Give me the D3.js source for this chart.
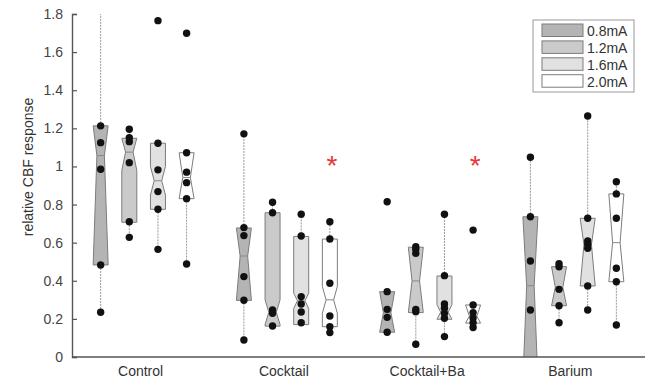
<!DOCTYPE html>
<html>
<head>
<meta charset="utf-8">
<script src="https://cdn.jsdelivr.net/npm/d3@7"></script>
<style>
  body { margin: 0; background: #fff; }
  text { font-family: "Liberation Sans", Arial, sans-serif; }
</style>
</head>
<body>
<svg id="chart" width="647" height="380"></svg>
<script>
const groups = ["Control", "Cocktail", "Cocktail+Ba", "Barium"];
const currents = ["0.8mA", "1.2mA", "1.6mA", "2.0mA"];
const fills = ["#b4b4b4", "#cacaca", "#e1e1e1", "#ffffff"];
const yTicks = [0, 0.2, 0.4, 0.6, 0.8, 1, 1.2, 1.4, 1.6, 1.8];

// box stats, one array per group, one entry per current
const q3 = {
  "Control": [1.213, 1.148, 1.122, 1.072],
  "Cocktail": [0.677, 0.757, 0.633, 0.619],
  "Cocktail+Ba": [0.343, 0.576, 0.425, 0.273],
  "Barium": [0.736, 0.474, 0.728, 0.856]
};
const median = {
  "Control": [1.057, 1.075, 0.925, 0.942],
  "Cocktail": [0.530, 0.235, 0.295, 0.300],
  "Cocktail+Ba": [0.232, 0.399, 0.235, 0.214],
  "Barium": [0.374, 0.366, 0.590, 0.600]
};
const q1 = {
  "Control": [0.483, 0.707, 0.775, 0.831],
  "Cocktail": [0.297, 0.162, 0.170, 0.159],
  "Cocktail+Ba": [0.130, 0.233, 0.198, 0.178],
  "Barium": [-0.12, 0.269, 0.373, 0.395]
};
// half height of the notch around the median (clamped to the box)
const notch = {
  "Control": [1, 0.095, 0.075, 1],
  "Cocktail": [1, 0.065, 0.04, 0.07],
  "Cocktail+Ba": [1, 1, 0.04, 1],
  "Barium": [1, 1, 1, 1]
};
const whiskerLo = {
  "Control": [0.235, 0.628, 0.565, 0.488],
  "Cocktail": [0.089, 0.162, 0.170, 0.128],
  "Cocktail+Ba": [0.130, 0.067, 0.107, 0.151],
  "Barium": [-0.3, 0.180, 0.247, 0.168]
};
const whiskerHi = {
  "Control": [1.95, 1.195, 1.122, 1.072],
  "Cocktail": [1.171, 0.812, 0.749, 0.710],
  "Cocktail+Ba": [0.343, 0.576, 0.749, 0.273],
  "Barium": [1.048, 0.490, 1.265, 0.920]
};
const points = {
  "Control": [[1.213, 1.125, 0.985, 0.483, 0.235], [1.195, 1.151, 1.130, 1.020, 0.710, 0.628],
              [1.765, 1.122, 0.982, 0.868, 0.775, 0.565], [1.699, 1.072, 0.970, 0.915, 0.831, 0.488]],
  "Cocktail": [[1.171, 0.679, 0.637, 0.422, 0.298, 0.089], [0.812, 0.757, 0.247, 0.229, 0.163],
               [0.749, 0.635, 0.317, 0.278, 0.236, 0.180], [0.710, 0.619, 0.387, 0.215, 0.159, 0.128]],
  "Cocktail+Ba": [[0.815, 0.343, 0.250, 0.208, 0.130], [0.579, 0.565, 0.544, 0.250, 0.238, 0.067],
                  [0.749, 0.427, 0.278, 0.256, 0.229, 0.203, 0.107], [0.666, 0.273, 0.233, 0.205, 0.180, 0.155]],
  "Barium": [[1.048, 0.736, 0.504, 0.247], [0.490, 0.474, 0.355, 0.269, 0.180],
             [1.265, 0.728, 0.609, 0.592, 0.571, 0.373, 0.247], [0.920, 0.856, 0.728, 0.466, 0.395, 0.168]]
};
// significance markers: [group, current, value]
const stars = [["Cocktail", "2.0mA", 1.03], ["Cocktail+Ba", "2.0mA", 1.03]];

const svg = d3.select("#chart");
const mLeft = 72, mRight = 645, mTop = 14, mBottom = 357;

const y = d3.scaleLinear().domain([0, 1.8]).range([mBottom, mTop]);
const x = d3.scaleBand().domain(groups).range([mLeft, mRight]);
const xs = d3.scalePoint().domain(currents).range([0, x.bandwidth()]).padding(1);
const color = d3.scaleOrdinal().domain(currents).range(fills);

const boxW = 15;
const depth = boxW / 4;

svg.append("clipPath").attr("id", "plotclip")
  .append("rect").attr("x", mLeft).attr("y", mTop).attr("width", mRight - mLeft + 2).attr("height", mBottom - mTop);

const plot = svg.append("g").attr("clip-path", "url(#plotclip)");

// flatten to one record per box
const boxes = [];
groups.forEach(g => {
  currents.forEach((c, i) => {
    boxes.push({
      group: g, current: c,
      q1: q1[g][i], med: median[g][i], q3: q3[g][i], n: notch[g][i],
      lo: whiskerLo[g][i], hi: whiskerHi[g][i], pts: points[g][i]
    });
  });
});

const cx = d => x(d.group) + xs(d.current);

// whiskers
plot.selectAll(".whisker-hi")
  .data(boxes)
  .enter().append("line")
  .attr("x1", cx).attr("x2", cx)
  .attr("y1", d => y(d.q3)).attr("y2", d => y(d.hi))
  .attr("stroke", "#9a9a9a").attr("stroke-dasharray", "2,1");

plot.selectAll(".whisker-lo")
  .data(boxes)
  .enter().append("line")
  .attr("x1", cx).attr("x2", cx)
  .attr("y1", d => y(d.q1)).attr("y2", d => y(d.lo))
  .attr("stroke", "#9a9a9a").attr("stroke-dasharray", "2,1");

// notched boxes
function boxPath(d) {
  const L = cx(d) - boxW / 2, R = cx(d) + boxW / 2;
  const nHi = Math.min(d.q3, d.med + d.n);
  const nLo = Math.max(d.q1, d.med - d.n);
  const pts = [
    [L, y(d.q1)], [L, y(nLo)], [L + depth, y(d.med)], [L, y(nHi)], [L, y(d.q3)],
    [R, y(d.q3)], [R, y(nHi)], [R - depth, y(d.med)], [R, y(nLo)], [R, y(d.q1)]
  ];
  return d3.line()(pts) + "Z";
}

plot.selectAll(".box")
  .data(boxes)
  .enter().append("path")
  .attr("d", boxPath)
  .attr("fill", d => color(d.current))
  .attr("stroke", "#7c7c7c")
  .attr("stroke-width", 1);

plot.selectAll(".median")
  .data(boxes)
  .enter().append("line")
  .attr("x1", d => cx(d) - boxW / 2 + depth)
  .attr("x2", d => cx(d) + boxW / 2 - depth)
  .attr("y1", d => y(d.med)).attr("y2", d => y(d.med))
  .attr("stroke", "#888");

// data points
boxes.forEach(b => {
  plot.selectAll(null)
    .data(b.pts)
    .enter().append("circle")
    .attr("cx", cx(b))
    .attr("cy", v => y(v))
    .attr("r", 3.7)
    .attr("fill", "#111");
});

// asterisks
svg.selectAll(".star")
  .data(stars)
  .enter().append("text")
  .attr("x", d => x(d[0]) + xs(d[1]) + 2)
  .attr("y", d => y(d[2]) + 14)
  .attr("text-anchor", "middle")
  .attr("font-size", 28)
  .attr("fill", "#e8353a")
  .text("*");

// y axis (ticks inside)
const yAxis = svg.append("g")
  .attr("transform", `translate(${mLeft},0)`)
  .call(d3.axisLeft(y).tickValues(yTicks).tickFormat(d3.format("~g")).tickSize(-5).tickPadding(9));
yAxis.select(".domain").attr("stroke", "#555").attr("stroke-width", 1.4);
yAxis.selectAll(".tick line").attr("stroke", "#555").attr("stroke-width", 1.2);
yAxis.selectAll("text").attr("font-size", 14).attr("fill", "#444")
  .attr("font-family", "Liberation Sans, Arial, sans-serif");

// x axis line and category labels
svg.append("line")
  .attr("x1", mLeft).attr("x2", mRight)
  .attr("y1", mBottom).attr("y2", mBottom)
  .attr("stroke", "#555").attr("stroke-width", 1.4);

svg.selectAll(".glabel")
  .data(groups)
  .enter().append("text")
  .attr("x", d => x(d) + x.bandwidth() / 2 - 3)
  .attr("y", 376)
  .attr("text-anchor", "middle")
  .attr("font-size", 14)
  .attr("fill", "#333")
  .text(d => d);

svg.append("text")
  .attr("transform", "translate(33,167) rotate(-90)")
  .attr("text-anchor", "middle")
  .attr("font-size", 14)
  .attr("fill", "#333")
  .text("relative CBF response");

// legend
const legend = svg.append("g").attr("transform", "translate(533,20)");
legend.append("rect")
  .attr("width", 101).attr("height", 72)
  .attr("fill", "#fff").attr("stroke", "#999");

const rows = legend.selectAll(".row")
  .data(currents)
  .enter().append("g")
  .attr("transform", (d, i) => `translate(9,${4 + i * 16.9})`);

rows.append("rect")
  .attr("width", 41).attr("height", 12.5)
  .attr("fill", d => color(d))
  .attr("stroke", "#7c7c7c");

rows.append("text")
  .attr("x", 45).attr("y", 12)
  .attr("font-size", 14)
  .attr("fill", "#333")
  .text(d => d);
</script>
</body>
</html>
